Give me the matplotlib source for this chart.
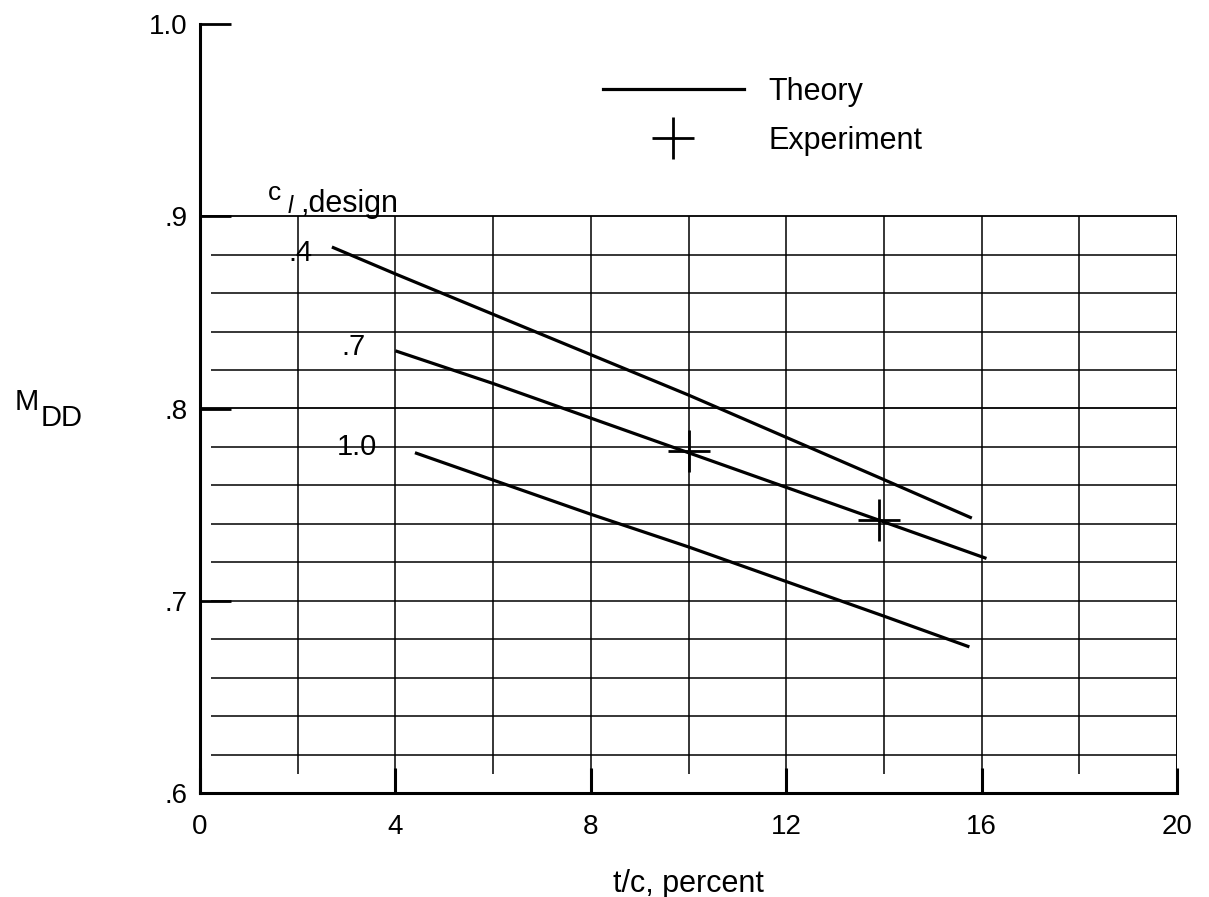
import matplotlib
matplotlib.use("Agg")
import matplotlib.pyplot as plt
import numpy as np

plt.rcParams['font.family'] = ['Liberation Sans', 'DejaVu Sans']
plt.rcParams['mathtext.fontset'] = 'custom'
plt.rcParams['mathtext.rm'] = 'Liberation Sans'
plt.rcParams['mathtext.it'] = 'Liberation Sans:italic'

# ---- data ----
cl_design = ['.4', '.7', '1.0']
tc_04 = [2.7, 4, 6, 8, 10, 12, 14, 15.8]
mdd_04 = [0.884, 0.870, 0.849, 0.828, 0.807, 0.785, 0.763, 0.743]
tc_07 = [4.0, 6, 8, 10, 12, 14, 16.1]
mdd_07 = [0.830, 0.813, 0.795, 0.777, 0.759, 0.741, 0.722]
tc_10 = [4.4, 8, 10, 12, 14, 15.75]
mdd_10 = [0.777, 0.745, 0.728, 0.710, 0.692, 0.676]
exp_tc = [10.0, 13.9]
exp_mdd = [0.778, 0.742]
xticks = [0, 4, 8, 12, 16, 20]
xticklabels = ['0', '4', '8', '12', '16', '20']
yticks = [0.6, 0.7, 0.8, 0.9, 1.0]
yticklabels = ['.6', '.7', '.8', '.9', '1.0']

fig = plt.figure(figsize=(12.09, 8.97), dpi=100)
ax = fig.add_axes([200/1209, 1 - 793/897, 977/1209, 769/897])
ax.set_xlim(0, 20)
ax.set_ylim(0.6, 1.0)

FS_TICK = 20
FS = 22
lw_grid = 1.1

# grid (only up to 0.9)
for yv in np.arange(0.62, 0.895, 0.02):
    if abs(yv - 0.8) < 1e-6:
        ax.hlines(yv, 0, 20, color='black', lw=lw_grid + 0.2)
    else:
        ax.hlines(yv, 0.23, 20, color='black', lw=lw_grid)
ax.hlines(0.9, 0, 20, color='black', lw=lw_grid + 0.2)
for xv in range(2, 20, 2):
    ymin = 0.6 if xv % 4 == 0 else 0.61
    ax.vlines(xv, ymin, 0.9, color='black', lw=lw_grid)
ax.vlines(20, 0.6, 0.9, color='black', lw=lw_grid + 0.3)

# data curves
for xs, ys in [(tc_04, mdd_04), (tc_07, mdd_07), (tc_10, mdd_10)]:
    ax.plot(xs, ys, color='black', lw=2.3, solid_capstyle='butt')
ax.plot([], [], color='black', lw=2.3, label='Theory')
ax.plot(exp_tc, exp_mdd, linestyle='none', marker='+', ms=30, mew=2.0,
        color='black', label='Experiment')

# curve labels
label_pos = [(1.8, 0.881), (2.9, 0.832), (2.8, 0.780)]
for lab, (lx, ly) in zip(cl_design, label_pos):
    ax.text(lx, ly, lab, fontsize=21, ha='left', va='center')
ax.text(1.38, 0.9084, 'c', fontsize=19, ha='left', va='baseline')
ax.text(1.78, 0.9016, r'$\mathit{l}$', fontsize=17, ha='left', va='baseline')
ax.text(2.05, 0.9021, ',design', fontsize=FS, ha='left', va='baseline')

# spines / ticks
for s in ['top', 'right']:
    ax.spines[s].set_visible(False)
ax.spines['left'].set_linewidth(2.2)
ax.spines['bottom'].set_linewidth(2.2)
ax.set_xticks(xticks)
ax.set_xticklabels(xticklabels)
ax.set_yticks(yticks)
ax.set_yticklabels(yticklabels)
ax.tick_params(axis='y', direction='in', length=22, width=2, pad=9, labelsize=FS_TICK)
ax.tick_params(axis='x', direction='in', length=18, width=2.2, pad=15, labelsize=FS_TICK)

ax.set_xlabel('t/c, percent', fontsize=FS, labelpad=21)
fig.text(15/1209, 1 - 402/897, 'M', fontsize=21, ha='left', va='center')
fig.text(41/1209, 1 - 418/897, 'DD', fontsize=21, ha='left', va='center')

leg = ax.legend(loc='upper left', bbox_to_anchor=(0.4125, 0.931), frameon=False,
                fontsize=FS, handlelength=4.6, handletextpad=0.82,
                labelspacing=0.61, borderpad=0, borderaxespad=0)

fig.savefig('out.png', dpi=100)
